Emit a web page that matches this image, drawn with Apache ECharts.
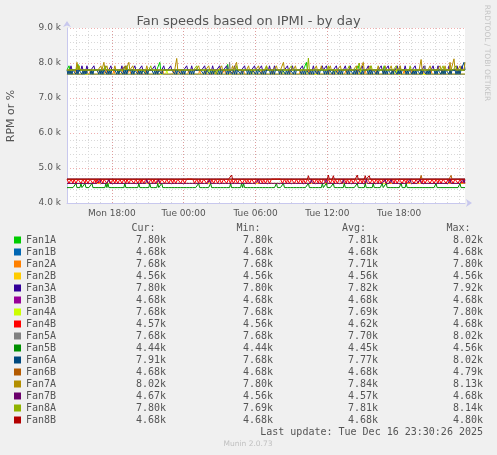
<!DOCTYPE html>
<html>
<head>
<meta charset="utf-8">
<script src="https://cdn.jsdelivr.net/npm/echarts@6/dist/echarts.min.js"></script>
<style>
html, body { margin: 0; padding: 0; background: #f0f0f0; }
#chart { width: 497px; height: 455px; }
</style>
</head>
<body>
<div id="chart"></div>
<script>
// 5 minute samples, Mon 14:15 -> Tue 23:30
var N = 400;
var STEP = 5 * 60 * 1000;
var HOUR = 3600 * 1000;
var start = new Date(2025, 11, 15, 14, 15).getTime();

// labelled ticks every 6 hours
var tickTimes = [new Date(2025, 11, 15, 18, 0).getTime(), new Date(2025, 11, 16, 0, 0).getTime(),
	new Date(2025, 11, 16, 6, 0).getTime(), new Date(2025, 11, 16, 12, 0).getTime(), new Date(2025, 11, 16, 18, 0).getTime()];

var names = ["Fan1A", "Fan1B", "Fan2A", "Fan2B", "Fan3A", "Fan3B", "Fan4A", "Fan4B",
	"Fan5A", "Fan5B", "Fan6A", "Fan6B", "Fan7A", "Fan7B", "Fan8A", "Fan8B"];
var colors = ["#00cc00", "#0066b3", "#ff8000", "#ffcc00", "#330099", "#990099", "#ccff00", "#ff0000",
	"#808080", "#008f00", "#00487d", "#b35a00", "#b38f00", "#6b006b", "#8fb300", "#b30000"];
var baseVals = [7800, 4680, 7680, 4560, 7800, 4680, 7680, 4560,
	7680, 4440, 7800, 4680, 7800, 4560, 7800, 4680];

// legend table (k)
var curVals = [7.80, 4.68, 7.68, 4.56, 7.80, 4.68, 7.68, 4.57, 7.68, 4.44, 7.91, 4.68, 8.02, 4.67, 7.80, 4.68];
var minVals = [7.80, 4.68, 7.68, 4.56, 7.80, 4.68, 7.68, 4.56, 7.68, 4.44, 7.68, 4.68, 7.80, 4.56, 7.69, 4.68];
var avgVals = [7.81, 4.68, 7.71, 4.56, 7.82, 4.68, 7.69, 4.62, 7.70, 4.45, 7.77, 4.68, 7.84, 4.57, 7.81, 4.68];
var maxVals = [8.02, 4.68, 7.80, 4.56, 7.92, 4.68, 7.80, 4.68, 8.02, 4.56, 8.02, 4.79, 8.13, 4.68, 8.14, 4.80];

// excursions from base: [sample, value]
var fan1ASpikes = [[2, 7920], [11, 7960], [93, 8020], [161, 7960], [240, 8020], [292, 7920], [318, 7920]];
var fan2APeaks = [3, 9, 18, 24, 33, 39, 47, 56, 63, 71, 79, 90, 96, 107, 114, 122, 133, 139, 148, 158, 167,
	177, 187, 195, 206, 214, 223, 234, 243, 251, 262, 271, 280, 291, 299, 310, 318, 327, 338, 346, 357, 365, 376, 384, 393];
var fan3APeaks = [4, 15, 20, 27, 38, 44, 55, 59, 68, 75, 88, 97, 104, 120, 125, 138, 146, 153, 160, 168, 178, 188,
	195, 203, 208, 221, 226, 236, 247, 256, 260, 270, 279, 284, 296, 302, 315, 322, 331, 339, 349, 358, 367, 372, 383, 391, 396];
var fan4APeaks = [52, 77, 100, 143, 147, 185, 217, 240, 268, 294, 330, 377];
var fan5ASpikes = [[20, 7800], [95, 7800], [163, 8020], [250, 7800], [334, 7920], [359, 7920]];
var fan5BPeaks = [9, 14, 18, 25, 39, 41, 58, 72, 83, 91, 95, 132, 144, 164, 175, 177, 210, 217, 242, 256, 260,
	267, 278, 291, 299, 307, 316, 320, 335, 340, 370, 394];
var fan6BSpikes = [[355, 4790], [385, 4790]];
var fan7ASpikes = [[10, 8020], [12, 7920], [34, 7920], [37, 8020], [40, 7920], [48, 7920], [58, 7920], [62, 8020],
	[66, 7920], [80, 7920], [110, 8130], [132, 7920], [142, 7920], [155, 7920], [166, 7920], [170, 8020], [182, 7920],
	[192, 7920], [200, 7920], [210, 7920], [217, 8020], [229, 7920], [250, 7920], [255, 7920], [264, 7920], [274, 7920],
	[290, 7920], [297, 8020], [304, 7920], [312, 7920], [319, 7920], [325, 7920], [334, 7920], [355, 8100], [364, 7920],
	[374, 7920], [379, 7920], [384, 8020], [388, 8120], [394, 7920], [399, 8020]];
var fan7BSpikes = [[33, 4680], [42, 4680], [80, 4680], [92, 4680], [143, 4680], [192, 4680], [245, 4680], [260, 4680],
	[277, 4680], [300, 4680], [319, 4680], [325, 4680], [344, 4680], [354, 4680], [384, 4680], [397, 4680], [399, 4670]];
var fan8ASpikes = [[12, 7920], [38, 7920], [60, 7920], [84, 7920], [130, 7920], [150, 7690], [170, 7920], [200, 7920],
	[225, 7920], [242, 8140], [262, 7920], [283, 7920], [293, 8000], [305, 7920], [330, 7920], [344, 7920], [377, 7920], [390, 7920]];
var fan8BSpikes = [[165, 4800], [242, 4780], [262, 4800], [267, 4780], [291, 4800], [299, 4780], [303, 4780]];

// dense zigzag series, one char per sample
var fan6APattern = [
	"-v-v-v---v-v---v-v-v----v-v-----v-v-v---v-v-v-----",
	"v-v---v-v-v----v-v---v-v-v---v-v-----v-v-v---v----",
	"--------v-v---v-v-v----v-v-v---------v-v---v-v-v---",
	"v-v-v----v-v---v-v-v---v-v----v-v-v---v-v---v-v-v-",
	"---v-v-v----v-v---v-v-v---v-v-----v-v-v---v-v-v---",
	"v-v----v-v-v---v-v---v-v-v----v-v---v-v-v---v-v---",
	"-v-v-v---v-v----v-v-v---v-v---v-v-v----v-v---v-v-v",
	"---v-v---v-v-v----v-v---v-v-v---v-v----v-v-v---U-u"
].join("");
var fan6ALevels = { "-": 7800, "v": 7680, "u": 7920, "U": 8020 };
var fan4BPattern = [
	"hhllhhlhhllhhhllhhlhhllhhhllhlhhllhhlhhhllhhllhhlh",
	"hllhhllhhlhhllhhhllhhllhlhhllhhhllhhlhhllhhllhhhll",
	"hhllhhlhhllhhhllhhllhhhhhhhhllhhlhhllhhhllhhlhhllh",
	"hllhhllhhhllhhlhhllhhllhhhllhhlhhllhhhllhhllhhlhhl",
	"lhhllhhhhhhhhhhhllhhlhhllhhhllhhllhhlhhllhhhllhhll",
	"hhlhhllhhhllhhllhhlhhllhhhllhhlhhllhhllhhhllhhlhhl",
	"lhhhllhhllhhlhhllhhhllhhllhhlhhllhhhllhhlhhllhhhll",
	"hhllhhlhhllhhhllhhllhhlhhllhhhllhhlhhllhhhllhhllhl"
].join("");
var fan4BLevels = { "h": 4680, "l": 4560 };

function at(idx, v) { return idx.map(function (i) { return [i, v]; }); }

var spikes = [fan1ASpikes, [], at(fan2APeaks, 7800), [], at(fan3APeaks, 7920), [], at(fan4APeaks, 7800), [],
	fan5ASpikes, at(fan5BPeaks, 4560), [], fan6BSpikes, fan7ASpikes, fan7BSpikes, fan8ASpikes, fan8BSpikes];
var patterns = { 10: [fan6APattern, fan6ALevels], 7: [fan4BPattern, fan4BLevels] };

function buildData(k) {
	var vals = [];
	for (var i = 0; i < N; i++) vals.push(baseVals[k]);
	if (patterns[k]) {
		var p = patterns[k][0], lv = patterns[k][1];
		for (i = 0; i < Math.min(N, p.length); i++) vals[i] = lv[p[i]];
	}
	spikes[k].forEach(function (s) { vals[s[0]] = s[1]; });
	return vals.map(function (v, j) { return [start + j * STEP, v]; });
}

// hourly minor grid positions
var hourTimes = [];
for (var t = new Date(2025, 11, 15, 15, 0).getTime(); t < start + N * STEP; t += HOUR) hourTimes.push(t);

var dayNames = ["Sun", "Mon", "Tue", "Wed", "Thu", "Fri", "Sat"];
function pad(n) { return (n < 10 ? "0" : "") + n; }

var chart = echarts.init(document.getElementById("chart"));

var rowY = function (r) { return 240 + r * 12; };
var mono = "DejaVu Sans Mono";
var graphics = [
	{ type: "text", x: 11, y: 116, rotation: Math.PI / 2,
		style: { text: "RPM or %", font: "11px DejaVu Sans", fill: "#555", align: "center", verticalAlign: "middle" } },
	{ type: "text", x: 487, y: 53, rotation: -Math.PI / 2,
		style: { text: "RRDTOOL / TOBI OETIKER", font: "7.5px DejaVu Sans", fill: "#c4c4c4", align: "center", verticalAlign: "middle" } },
	{ type: "text", x: 483, y: 432,
		style: { text: "Last update: Tue Dec 16 23:30:26 2025", font: "10px " + mono, fill: "#555", align: "right", verticalAlign: "middle" } },
	{ type: "text", x: 248, y: 444,
		style: { text: "Munin 2.0.73", font: "7.5px DejaVu Sans", fill: "#c0c0c0", align: "center", verticalAlign: "middle" } }
];
[["Cur:", 131.5], ["Min:", 236.5], ["Avg:", 342], ["Max:", 446.5]].forEach(function (h) {
	graphics.push({ type: "text", x: h[1], y: 228,
		style: { text: h[0], font: "10px " + mono, fill: "#555", align: "left", verticalAlign: "middle" } });
});
[[curVals, 166], [minVals, 273], [avgVals, 378], [maxVals, 483]].forEach(function (col) {
	col[0].forEach(function (v, r) {
		graphics.push({ type: "text", x: col[1], y: rowY(r),
			style: { text: v.toFixed(2) + "k", font: "10px " + mono, fill: "#555", align: "right", verticalAlign: "middle" } });
	});
});

var axisCol = "#c8c8ee";
var majorGrid = { show: true, lineStyle: { color: "rgba(225,110,110,0.55)", type: [1, 2], width: 1 } };
var minorGrid = { show: true, lineStyle: { color: "#d8d8d8", type: [1, 2], width: 1 } };

chart.setOption({
	animation: false,
	backgroundColor: "#f0f0f0",
	title: {
		text: "Fan speeds based on IPMI - by day",
		left: "center", top: 10,
		textStyle: { fontFamily: "DejaVu Sans", fontSize: 13, fontWeight: "normal", color: "#555" }
	},
	grid: { left: 67, right: 32, top: 28, height: 175, show: true, backgroundColor: "#ffffff", borderWidth: 0 },
	legend: {
		orient: "vertical", left: 14, top: 234, padding: 0,
		itemWidth: 7, itemHeight: 7, itemGap: 0, icon: "rect", selectedMode: false,
		textStyle: { fontFamily: mono, fontSize: 10, color: "#555", lineHeight: 12 },
		data: names
	},
	xAxis: [
		{
			type: "value", min: start, max: start + (N - 1) * STEP, z: 1,
			axisLine: { show: true, onZero: false, lineStyle: { color: axisCol }, symbol: ["none", "arrow"], symbolSize: [6, 6], symbolOffset: [0, 7] },
			axisTick: { show: false, customValues: tickTimes },
			splitLine: majorGrid,
			axisLabel: {
				customValues: tickTimes, margin: 6,
				fontFamily: "DejaVu Sans", fontSize: 9, color: "#555",
				formatter: function (v) { var d = new Date(v); return dayNames[d.getDay()] + " " + pad(d.getHours()) + ":" + pad(d.getMinutes()); }
			}
		},
		{
			type: "value", min: start, max: start + (N - 1) * STEP, position: "top", z: 0,
			axisLine: { show: false }, axisTick: { show: false, customValues: hourTimes }, axisLabel: { show: false, customValues: hourTimes },
			splitLine: minorGrid
		}
	],
	yAxis: {
		type: "value", min: 4000, max: 9000, interval: 1000,
		axisLine: { show: true, onZero: false, lineStyle: { color: axisCol }, symbol: ["none", "arrow"], symbolSize: [6, 6], symbolOffset: [0, 7] },
		axisTick: { show: false },
		axisLabel: {
			margin: 6, fontFamily: "DejaVu Sans", fontSize: 9, color: "#555",
			formatter: function (v) { return (v / 1000).toFixed(1) + " k"; }
		},
		splitLine: majorGrid,
		minorTick: { show: false, splitNumber: 5 },
		minorSplitLine: minorGrid
	},
	graphic: graphics,
	series: names.map(function (n, k) {
		return {
			name: n, type: "line", showSymbol: false, symbol: "none",
			color: colors[k],
			lineStyle: { width: 1, color: colors[k] },
			itemStyle: { color: colors[k] },
			data: buildData(k)
		};
	})
});
</script>
</body>
</html>
